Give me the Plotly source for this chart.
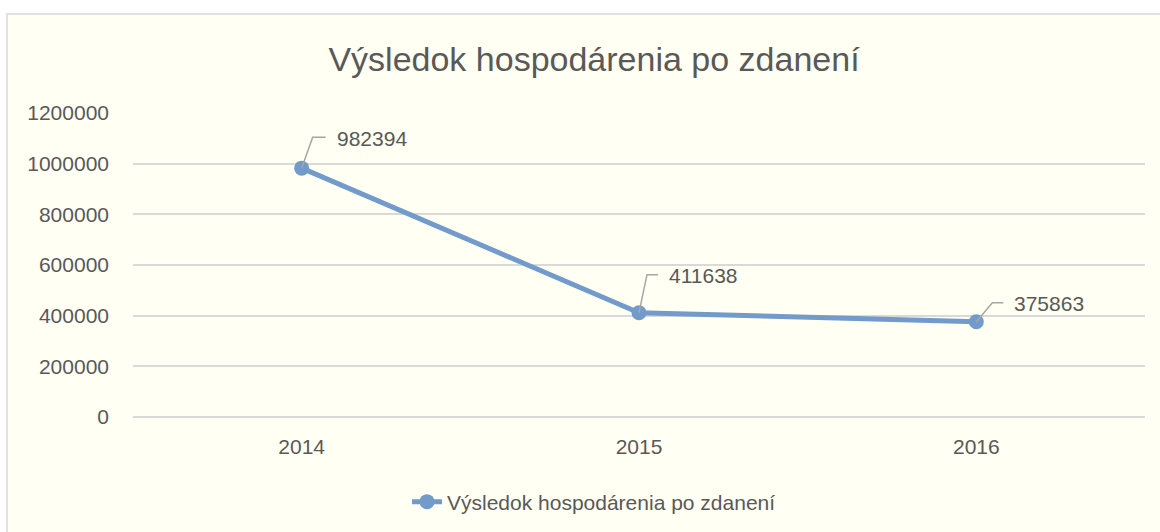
import plotly.graph_objects as go

years = ["2014", "2015", "2016"]
values = [982394, 411638, 375863]
series_name = "Výsledok hospodárenia po zdanení"
title_text = "Výsledok hospodárenia po zdanení"
y_tick_values = [0, 200000, 400000, 600000, 800000, 1000000, 1200000]

W, H = 1160, 532
ML, MR, MT, MB = 133, 15, 113, 115
PW, PH = W - ML - MR, H - MT - MB

FONT = "Liberation Sans, Arial, sans-serif"
TXT = "#595959"
LINE = "#729BCB"
GRID = "#D9D9D9"
BG = "#FFFFF3"

fig = go.Figure()
fig.add_trace(go.Scatter(
    x=years, y=values, mode="lines+markers", name=series_name,
    line=dict(color=LINE, width=5),
    marker=dict(color=LINE, size=15),
    showlegend=True,
))

# leader line geometry (pixel offsets from each point): diagonal end, horizontal end, text start
leaders = [(11, 31, 24, 33), (8, 38, 19, 28), (16, 19, 27, 36)]
shapes = [dict(type="rect", xref="paper", yref="paper",
               x0=(7 - ML) / PW, x1=(W + 30 - ML) / PW,
               y0=-(MB + 30) / PH, y1=(PH + MT - 14) / PH,
               fillcolor=BG, line=dict(color=GRID, width=1.5), layer="below")]
annotations = []
for i, (val, (dx, dy, hx, tx)) in enumerate(zip(values, leaders)):
    shapes.append(dict(type="path", xref="x", yref="y",
                       xsizemode="pixel", ysizemode="pixel",
                       xanchor=i, yanchor=val,
                       path=f"M0,0 L{dx},{dy} L{hx},{dy}",
                       line=dict(color="#A6A6A6", width=1.5), layer="above"))
    annotations.append(dict(x=i, y=val, xref="x", yref="y", text=str(val),
                            showarrow=False, xanchor="left", yanchor="middle",
                            xshift=tx, yshift=dy - 1,
                            font=dict(family=FONT, size=21, color=TXT)))

fig.update_layout(
    width=W, height=H,
    margin=dict(l=ML, r=MR, t=MT, b=MB),
    paper_bgcolor="white", plot_bgcolor="rgba(0,0,0,0)",
    font=dict(family=FONT, size=21, color=TXT),
    title=dict(text=title_text, x=594 / W, xref="container", xanchor="center",
               y=1 - 59 / H, yref="container", yanchor="middle",
               font=dict(family=FONT, size=34, color=TXT)),
    xaxis=dict(type="category", range=[-0.5, 2.5], showgrid=False, zeroline=False,
               showline=False, ticks="", ticklabelstandoff=15,
               tickfont=dict(family=FONT, size=21, color=TXT)),
    yaxis=dict(range=[0, 1200000], tickvals=y_tick_values, tickformat="d",
               showgrid=True, gridcolor=GRID, gridwidth=1.5,
               zeroline=True, zerolinecolor=GRID, zerolinewidth=1.5,
               showline=False, ticks="", ticklabelstandoff=23,
               tickfont=dict(family=FONT, size=21, color=TXT)),
    legend=dict(orientation="h", xref="container", yref="container",
                x=594 / W, xanchor="center", y=1 - 502 / H, yanchor="middle",
                bgcolor="rgba(0,0,0,0)", font=dict(family=FONT, size=21, color=TXT)),
    shapes=shapes, annotations=annotations,
)

fig.write_html("out.html", config={"displayModeBar": False},
               post_script="document.body.style.margin='0';document.body.style.overflow='hidden';")
